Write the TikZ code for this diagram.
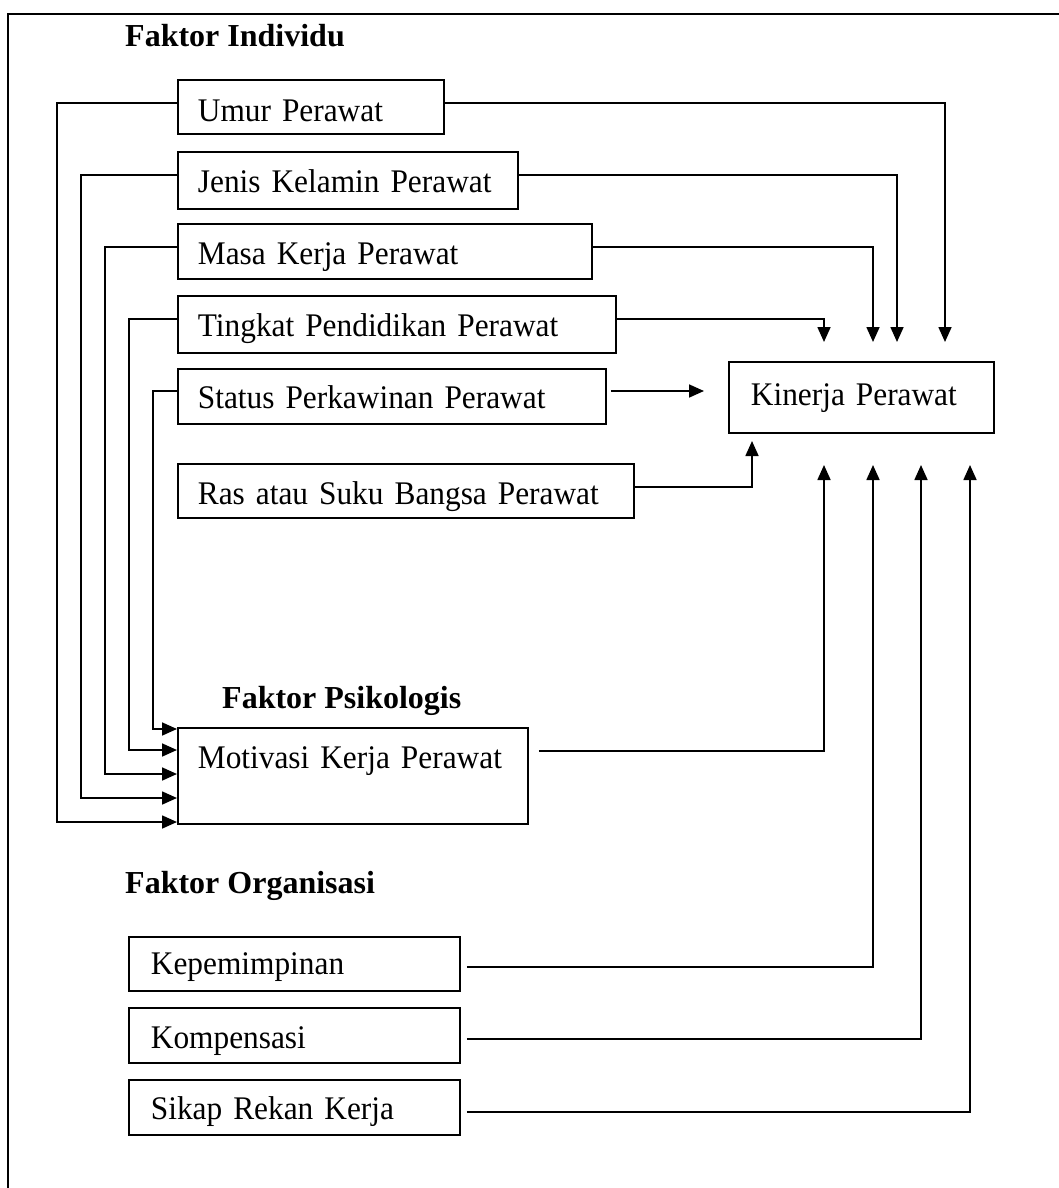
\documentclass[tikz,border=0pt]{standalone}
\usepackage{fontspec}
\setmainfont{Liberation Serif}
\newfontfamily\boxfont{Liberation Serif}[FakeStretch=0.95]
\usetikzlibrary{arrows.meta,calc}
\begin{document}
\begin{tikzpicture}[x=1pt,y=-1pt,
  box/.style={draw, line width=1.8pt, rectangle, anchor=north west, inner xsep=20pt, inner ysep=0pt,
    align=left, font=\boxfont\fontsize{33}{38}\selectfont, text height=25pt, text depth=0pt},
  head/.style={anchor=base west, inner sep=0pt, font=\fontsize{32}{38}\selectfont\bfseries},
  arr/.style={line width=1.7pt, -{Triangle[length=15pt,width=13pt]}}]
\useasboundingbox (0,0) rectangle (1059,1188);
\clip (0,0) rectangle (1059,1188);
\draw[line width=1.8pt] (8,14) rectangle (1100,1230);

% headings
\node[head] (hind) at (125,47) {Faktor Individu};
\node[head] (hpsi) at (222,708) {Faktor Psikologis};
\node[head] (horg) at (125,893) {Faktor Organisasi};

% boxes
\node[box, minimum width=266pt, minimum height=54pt, text width=226pt, text height=29pt] (umur) at (177,79) {Umur Perawat};
\node[box, minimum width=340pt, minimum height=57pt, text width=300pt, text height=25pt] (jenis) at (177,151) {Jenis Kelamin Perawat};
\node[box, minimum width=414pt, minimum height=55pt, text width=374pt, text height=26pt] (masa) at (177,223) {Masa Kerja Perawat};
\node[box, minimum width=438pt, minimum height=57pt, text width=398pt, text height=24pt] (ting) at (177,295) {Tingkat Pendidikan Perawat};
\node[box, minimum width=428pt, minimum height=55pt, text width=388pt, text height=24pt] (stat) at (177,368) {Status Perkawinan Perawat};
\node[box, minimum width=456pt, minimum height=54pt, text width=416pt, text height=27pt] (ras) at (177,463) {Ras atau Suku Bangsa Perawat};
\node[box, minimum width=265pt, minimum height=71pt, text width=221pt, inner xsep=22pt, text height=17pt] (kin) at (728,361) {Kinerja Perawat};
\node[box, minimum width=350pt, minimum height=96pt, text width=310pt, text height=0pt, text depth=15pt] (moti) at (177,727) {Motivasi Kerja Perawat};
\node[box, minimum width=331pt, minimum height=54pt, text width=287pt, inner xsep=22pt, text height=21pt] (kep) at (128,936) {Kepemimpinan};
\node[box, minimum width=331pt, minimum height=55pt, text width=287pt, inner xsep=22pt, text height=26pt] (komp) at (128,1007) {Kompensasi};
\node[box, minimum width=331pt, minimum height=55pt, text width=287pt, inner xsep=22pt, text height=25pt] (sikap) at (128,1079) {Sikap Rekan Kerja};

% free arrow ends near Kinerja Perawat
\coordinate (a1) at (824,342);
\coordinate (a2) at (873,342);
\coordinate (a3) at (897,342);
\coordinate (a4) at (945,342);
\coordinate (a5) at (704,391);
\coordinate (a6) at (752,441);
\coordinate (b1) at (824,465);
\coordinate (b2) at (873,465);
\coordinate (b3) at (921,465);
\coordinate (b4) at (970,465);

% individual factors -> motivasi
\draw[arr] (umur.west |- 0,103) -| (57,822) -- (moti.west |- 0,822);
\draw[arr] (jenis.west |- 0,175) -| (81,798) -- (moti.west |- 0,798);
\draw[arr] (masa.west |- 0,247) -| (105,774) -- (moti.west |- 0,774);
\draw[arr] (ting.west |- 0,319) -| (129,750) -- (moti.west |- 0,750);
\draw[arr] (stat.west |- 0,391) -| (153,729) -- (moti.west |- 0,729);

% individual factors -> kinerja
\draw[arr] (umur.east |- 0,103) -| (a4);
\draw[arr] (jenis.east |- 0,175) -| (a3);
\draw[arr] (masa.east |- 0,247) -| (a2);
\draw[arr] (ting.east |- 0,319) -| (a1);
\draw[arr] ($(stat.east |- 0,391)+(4,0)$) -- (a5);
\draw[arr] (ras.east |- 0,487) -| (a6);

% motivasi and organisation -> kinerja
\draw[arr] ($(moti.east |- 0,751)+(10,0)$) -| (b1);
\draw[arr] ($(kep.east |- 0,967)+(6,0)$) -| (b2);
\draw[arr] ($(komp.east |- 0,1039)+(6,0)$) -| (b3);
\draw[arr] ($(sikap.east |- 0,1112)+(6,0)$) -| (b4);
\end{tikzpicture}
\end{document}
